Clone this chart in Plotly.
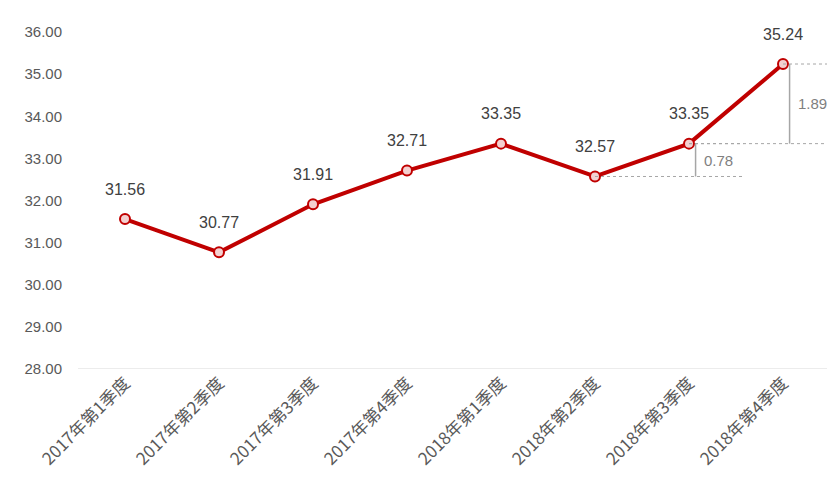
import plotly.graph_objects as go

categories = ["2017年第1季度","2017年第2季度","2017年第3季度","2017年第4季度",
              "2018年第1季度","2018年第2季度","2018年第3季度","2018年第4季度"]
values = [31.56, 30.77, 31.91, 32.71, 33.35, 32.57, 33.35, 35.24]
y_ticks = [28, 29, 30, 31, 32, 33, 34, 35, 36]

fig = go.Figure()
fig.add_trace(go.Scatter(
    x=list(range(len(categories))), y=values, mode="lines+markers",
    line=dict(color="#C00000", width=4),
    marker=dict(size=10, color="#F4D0D0", line=dict(color="#C00000", width=2)),
    cliponaxis=False, showlegend=False))

shapes, annos = [], []
for i, v in enumerate(values):
    annos.append(dict(x=i, y=v, xref="x", yref="y", text=f"{v:.2f}", showarrow=False,
                      yshift=30, font=dict(size=16, color="#404040", family="Arial, Liberation Sans")))

gray = "#A6A6A6"
def bracket(i_lo, i_hi, xpos, xend):
    lo, hi = values[i_lo], values[i_hi]
    shapes.append(dict(type="line", xref="x", yref="y", x0=i_lo, x1=xend, y0=lo, y1=lo,
                       line=dict(color=gray, width=1, dash="dot")))
    shapes.append(dict(type="line", xref="x", yref="y", x0=i_hi, x1=xend, y0=hi, y1=hi,
                       line=dict(color=gray, width=1, dash="dot")))
    shapes.append(dict(type="line", xref="x", yref="y", x0=xpos, x1=xpos, y0=lo, y1=hi,
                       line=dict(color=gray, width=1.5)))
    annos.append(dict(x=xpos, y=(lo + hi) / 2, xref="x", yref="y", text=f"{hi-lo:.2f}",
                      showarrow=False, xanchor="left", xshift=6,
                      font=dict(size=15, color="#7F7F7F", family="Arial, Liberation Sans")))

bracket(5, 6, 6.07, 6.58)
bracket(6, 7, 7.07, 7.5)

fig.update_layout(
    width=835, height=493, margin=dict(l=70, r=13, t=24, b=132),
    plot_bgcolor="white", paper_bgcolor="white",
    shapes=shapes, annotations=annos,
    xaxis=dict(tickmode="array", tickvals=list(range(len(categories))), ticktext=categories,
               range=[-0.5, 7.5], tickangle=-45, showgrid=False, showline=False, zeroline=False,
               automargin=False,
               tickfont=dict(size=17, color="#595959", family="Noto Sans CJK SC")),
    yaxis=dict(range=[28, 36], tickvals=y_ticks, ticktext=[f"{t:.2f}" for t in y_ticks],
               showgrid=False, zeroline=False, showline=False, automargin=False,
               ticks="outside", ticklen=12, tickcolor="white",
               tickfont=dict(size=15, color="#595959", family="Arial, Liberation Sans")),
)
fig.add_shape(type="line", xref="paper", yref="y", x0=0, x1=1, y0=28, y1=28,
              line=dict(color="#D9D9D9", width=1))
fig.write_html("out.html")
